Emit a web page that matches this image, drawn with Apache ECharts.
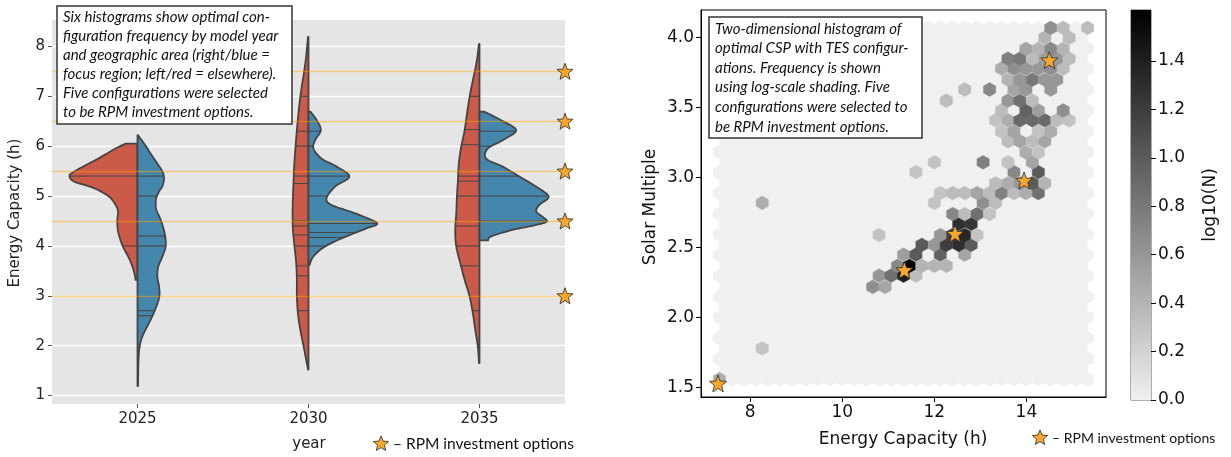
<!DOCTYPE html>
<html><head><meta charset="utf-8">
<script src="https://cdn.jsdelivr.net/npm/echarts@6/dist/echarts.min.js"></script>
<style>html,body{margin:0;padding:0;background:#fff}#c{width:1231px;height:457px}</style>
</head><body><div id="c"></div>
<script>
// ================= DATA =================
// ---- left panel: split violins (value in h, half-width in category units) ----
const years = ['2025', '2030', '2035'];
const rpmOptions = [3.0, 4.5, 5.5, 6.5, 7.5];
const leftYTicks = [1, 2, 3, 4, 5, 6, 7, 8];

const red2025 = [[3.32,0.012],[3.39,0.014],[3.59,0.030],[3.79,0.055],[3.95,0.080],[4.12,0.100],[4.32,0.115],[4.52,0.118],[4.69,0.114],[4.82,0.128],[4.99,0.167],[5.16,0.255],[5.29,0.370],[5.40,0.398],[5.47,0.380],[5.55,0.340],[5.65,0.285],[5.75,0.230],[5.85,0.180],[5.95,0.130],[6.05,0.070]];
const blue2025 = [[1.19,0.003],[1.72,0.006],[1.99,0.013],[2.19,0.029],[2.39,0.058],[2.59,0.087],[2.79,0.111],[2.99,0.128],[3.19,0.126],[3.39,0.116],[3.59,0.122],[3.79,0.146],[4.00,0.165],[4.25,0.159],[4.52,0.136],[4.72,0.111],[4.92,0.107],[5.09,0.126],[5.20,0.146],[5.35,0.155],[5.49,0.146],[5.65,0.116],[5.85,0.077],[6.05,0.039],[6.22,0.003]];
const red2030 = [[1.52,0.003],[1.65,0.010],[1.99,0.029],[2.32,0.048],[2.65,0.062],[2.99,0.068],[3.32,0.068],[3.65,0.072],[3.99,0.082],[4.32,0.091],[4.65,0.093],[4.99,0.091],[5.32,0.087],[5.65,0.083],[6.32,0.068],[6.99,0.048],[7.65,0.019],[8.19,0.003]];
const blue2030 = [[3.62,0.006],[3.79,0.029],[3.99,0.097],[4.19,0.221],[4.35,0.338],[4.45,0.402],[4.59,0.320],[4.69,0.243],[4.82,0.135],[4.95,0.105],[5.19,0.155],[5.39,0.239],[5.59,0.165],[5.75,0.077],[5.95,0.029],[6.12,0.039],[6.32,0.072],[6.52,0.048],[6.69,0.012]];
const red2035 = [[1.65,0.003],[1.99,0.010],[2.32,0.025],[2.65,0.039],[2.99,0.058],[3.32,0.087],[3.65,0.112],[3.99,0.136],[4.32,0.142],[4.65,0.136],[4.99,0.132],[5.32,0.126],[5.65,0.121],[5.99,0.107],[6.32,0.087],[6.99,0.058],[7.65,0.019],[8.05,0.003]];
const blue2035 = [[4.11,0.050],[4.19,0.068],[4.32,0.192],[4.42,0.330],[4.49,0.394],[4.58,0.370],[4.69,0.332],[4.82,0.349],[4.99,0.404],[5.19,0.330],[5.39,0.233],[5.59,0.136],[5.75,0.039],[5.95,0.048],[6.12,0.136],[6.32,0.214],[6.52,0.126],[6.69,0.029]];

const sticksRed2025 = [5.4, 4.0];
const sticksBlue2025 = [5.4, 5.0, 4.2, 4.0, 2.7, 2.6];
const sticksRed2030 = [7.0, 6.3, 6.0, 5.4, 5.25, 4.5, 4.4, 4.22, 4.0, 3.6, 3.4, 2.7];
const sticksBlue2030 = [6.3, 6.0, 5.4, 5.0, 4.45, 4.27, 4.17, 4.0];
const sticksRed2035 = [7.0, 6.33, 6.03, 5.4, 5.3, 5.0, 4.4, 4.0, 3.6, 2.7];
const sticksBlue2035 = [6.3, 6.0, 5.4, 5.0, 4.5];

// ---- right panel: hexbin (energy capacity, solar multiple, log10(N)) ----
const binX0 = 7.328, binDX = 0.2667, binNX = 30;
const binY0 = 1.559, binDY = 0.1478, binNY = 17;
const hexCells = [
 [7.33,1.56,0.45],[8.26,1.78,0.30],
 [10.66,2.22,0.65],[10.93,2.22,0.50],
 [10.80,2.30,0.60],[11.06,2.30,0.85],[11.33,2.30,1.40],[11.60,2.30,0.35],
 [11.20,2.37,0.70],[11.46,2.37,1.60],[11.73,2.37,0.40],[12.00,2.37,0.40],[12.26,2.37,0.40],
 [11.33,2.45,0.55],[11.60,2.45,1.00],[12.13,2.45,0.95],[12.66,2.45,0.50],
 [11.73,2.52,1.00],[12.00,2.52,0.60],[12.26,2.52,1.20],[12.53,2.52,1.30],[12.80,2.52,1.00],
 [10.80,2.59,0.30],[12.13,2.59,0.60],[12.40,2.59,1.20],[12.66,2.59,1.35],[12.93,2.59,0.30],
 [12.53,2.67,1.30],[12.80,2.67,1.25],
 [12.40,2.74,0.70],[12.66,2.74,0.35],[12.93,2.74,0.85],[13.20,2.74,0.30],
 [8.26,2.82,0.45],[12.00,2.82,0.30],[13.06,2.82,0.65],[13.33,2.82,0.35],
 [12.13,2.89,0.30],[12.40,2.89,0.35],[12.66,2.89,0.35],[12.93,2.89,0.50],[13.20,2.89,0.35],[13.46,2.89,0.75],[13.73,2.89,0.35],[13.99,2.89,0.45],[14.26,2.89,0.85],
 [13.33,2.96,0.35],[13.60,2.96,0.45],[13.86,2.96,0.60],[14.13,2.96,1.00],[14.40,2.96,0.40],
 [11.60,3.04,0.30],[13.73,3.04,0.70],[14.26,3.04,1.00],
 [12.00,3.11,0.30],[13.06,3.11,0.75],[13.60,3.11,0.30],[14.13,3.11,0.50],
 [13.99,3.18,0.45],[14.26,3.18,0.30],
 [13.60,3.26,0.35],[13.86,3.26,0.50],[14.13,3.26,0.35],[14.40,3.26,0.50],
 [13.46,3.33,0.30],[13.73,3.33,0.50],[14.26,3.33,0.30],[14.53,3.33,0.45],
 [13.33,3.41,0.30],[13.60,3.41,0.45],[13.86,3.41,0.90],[14.13,3.41,0.90],[14.40,3.41,0.90],[14.66,3.41,0.35],[14.93,3.41,0.30],
 [13.46,3.48,0.35],[13.99,3.48,0.95],[14.26,3.48,0.55],[14.80,3.48,0.65],
 [12.26,3.55,0.35],[13.60,3.55,0.60],[13.86,3.55,0.85],[14.13,3.55,0.35],
 [12.66,3.63,0.35],[13.20,3.63,0.70],[13.73,3.63,0.50],[13.99,3.63,0.60],[14.53,3.63,0.60],
 [13.60,3.70,0.40],[13.86,3.70,0.60],[14.13,3.70,0.80],[14.40,3.70,0.60],[14.66,3.70,0.60],
 [13.46,3.78,0.45],[13.73,3.78,0.65],[13.99,3.78,0.60],[14.26,3.78,0.60],[14.53,3.78,0.65],[14.80,3.78,0.35],
 [13.60,3.85,0.75],[13.86,3.85,0.80],[14.13,3.85,0.35],[14.40,3.85,0.55],[14.66,3.85,0.60],[14.93,3.85,0.35],
 [13.99,3.92,0.50],[14.26,3.92,0.40],[14.53,3.92,0.70],[14.80,3.92,0.40],
 [14.40,4.00,0.40],[14.93,4.00,0.35],
 [14.53,4.07,0.65],[14.80,4.07,0.35],[15.33,4.07,0.35]
];
const rpmEnergy = [7.30, 11.35, 12.45, 13.95, 14.50];
const rpmSolar  = [1.53, 2.34, 2.60, 2.98, 3.84];
const rightXTicks = [8, 10, 12, 14];
const rightYTicks = [1.5, 2.0, 2.5, 3.0, 3.5, 4.0];
const cbarTicks = [0, 0.2, 0.4, 0.6, 0.8, 1.0, 1.2, 1.4];
const cbarMax = 1.61;

// ================= STYLE / BUILD =================
const RED = '#cc5a49', BLUE = '#4586ac', OUTLINE = '#444444';
const STAR = 'path://M12,1 L14.9,8.6 L23,8.9 L16.7,14 L18.8,22 L12,17.6 L5.2,22 L7.3,14 L1,8.9 L9.1,8.6 Z';
const STAR_FILL = '#f8a72c';
const LEFT_XMIN = -0.5, LEFT_XMAX = 2.5;

function starPts(cx, cy, R) {
  const pts = [];
  for (let i = 0; i < 10; i++) {
    const r = i % 2 === 0 ? R : R * 0.45;
    const a = -Math.PI / 2 + i * Math.PI / 5;
    pts.push([cx + r * Math.cos(a), cy + r * Math.sin(a)]);
  }
  return pts;
}

const halves = [
  {cat:0, side:-1, profile:red2025,  sticks:sticksRed2025,  color:RED},
  {cat:0, side: 1, profile:blue2025, sticks:sticksBlue2025, color:BLUE},
  {cat:1, side:-1, profile:red2030,  sticks:sticksRed2030,  color:RED},
  {cat:1, side: 1, profile:blue2030, sticks:sticksBlue2030, color:BLUE},
  {cat:2, side:-1, profile:red2035,  sticks:sticksRed2035,  color:RED},
  {cat:2, side: 1, profile:blue2035, sticks:sticksBlue2035, color:BLUE}
];

function catmull(pts, seg) {
  const out = [];
  const n = pts.length;
  for (let i = 0; i < n - 1; i++) {
    const p0 = pts[Math.max(i - 1, 0)], p1 = pts[i], p2 = pts[i + 1], p3 = pts[Math.min(i + 2, n - 1)];
    for (let t = 0; t < seg; t++) {
      const s = t / seg, s2 = s * s, s3 = s2 * s;
      const f = k => 0.5 * ((2 * p1[k]) + (-p0[k] + p2[k]) * s + (2 * p0[k] - 5 * p1[k] + 4 * p2[k] - p3[k]) * s2 + (-p0[k] + 3 * p1[k] - 3 * p2[k] + p3[k]) * s3);
      out.push([f(0), f(1)]);
    }
  }
  out.push(pts[n - 1]);
  return out;
}

function renderViolin(params, api) {
  const h = halves[api.value(2)];
  const prof = h.profile;
  const cx = api.coord([h.cat, prof[0][0]])[0];
  let sm = catmull(prof.map(p => api.coord([h.cat + h.side * p[1], p[0]])), 8);
  sm = sm.map(p => [h.side < 0 ? Math.min(p[0], cx) : Math.max(p[0], cx), p[1]]);
  const bottom = api.coord([h.cat, prof[0][0]]);
  const top = api.coord([h.cat, prof[prof.length - 1][0]]);
  const pts = [bottom].concat(sm).concat([top]);
  const children = [{type:'polygon', shape:{points:pts}, style:{fill:h.color, stroke:'none'}}];
  h.sticks.forEach(s => {
    const c = api.coord([h.cat, s]);
    let x = c[0];
    for (let i = 0; i < sm.length - 1; i++) {
      const a = sm[i], b = sm[i + 1];
      if ((a[1] - c[1]) * (b[1] - c[1]) <= 0 && a[1] !== b[1]) {
        const t = (c[1] - a[1]) / (b[1] - a[1]);
        x = a[0] + t * (b[0] - a[0]);
        break;
      }
    }
    children.push({type:'line', shape:{x1:c[0], y1:c[1], x2:x, y2:c[1]}, style:{stroke:OUTLINE, lineWidth:1}});
  });
  children.push({type:'polygon', shape:{points:pts}, style:{fill:'none', stroke:OUTLINE, lineWidth:1.8, lineJoin:'round'}});
  return {type:'group', children};
}

// hex lattice (all bins; zero-count bins get value 0)
const hexData = [];
for (let j = 0; j <= binNY; j++) for (let i = 0; i <= binNX; i++) hexData.push([binX0 + i * binDX, binY0 + j * binDY, 0]);
for (let j = 0; j < binNY; j++) for (let i = 0; i < binNX; i++) hexData.push([binX0 + (i + 0.5) * binDX, binY0 + (j + 0.5) * binDY, 0]);
hexCells.forEach(c => hexData.push(c));

function renderHex(params, api) {
  const c = api.coord([api.value(0), api.value(1)]);
  const s = api.size([binDX, binDY]);
  const hw = s[0] / 2, h3 = s[1] / 3, h6 = s[1] / 6;
  const col = api.visual('color');
  return {type:'polygon', shape:{points:[[c[0]+hw,c[1]+h6],[c[0]+hw,c[1]-h6],[c[0],c[1]-h3],[c[0]-hw,c[1]-h6],[c[0]-hw,c[1]+h6],[c[0],c[1]+h3]]},
          style:{fill:col, stroke:col, lineWidth:0.4}};
}

function renderCbar(params, api) {
  const p0 = api.coord([0, 0]), p1 = api.coord([1, cbarMax]);
  return {type:'rect', shape:{x:p0[0], y:p1[1], width:p1[0]-p0[0], height:p0[1]-p1[1]},
          style:{fill:{type:'linear', x:0, y:0, x2:0, y2:1, colorStops:[{offset:0,color:'#000000'},{offset:1,color:'#f0f0f0'}]}}};
}

const TICKFONT = 'DejaVu Sans';
const NOTEFONT = 'Lato';

const option = {
  animation: false,
  backgroundColor: '#ffffff',
  grid: [
    {left:52, top:20, width:513, height:384, show:true, backgroundColor:'#e5e5e5', borderWidth:0},
    {left:701, top:10, width:405, height:387, show:true, borderColor:'#000', borderWidth:1},
    {left:1131, top:10, width:20, height:390, show:true, borderColor:'#333', borderWidth:0.8}
  ],
  xAxis: [
    {type:'value', gridIndex:0, min:LEFT_XMIN, max:LEFT_XMAX,
     axisLine:{show:false, onZero:false}, splitLine:{show:false},
     axisTick:{show:true, length:4, lineStyle:{color:'#555'}, customValues:[0,1,2]},
     axisLabel:{customValues:[0,1,2], formatter:v => years[Math.round(v)], fontFamily:TICKFONT, fontSize:15, color:'#222', margin:8}},
    {type:'value', gridIndex:1, min:6.93, max:15.73,
     axisLine:{show:true, onZero:false, lineStyle:{color:'#000', width:1}}, splitLine:{show:false},
     axisTick:{show:true, length:5, lineStyle:{color:'#000'}, customValues:rightXTicks},
     axisLabel:{customValues:rightXTicks, fontFamily:TICKFONT, fontSize:17, color:'#111', margin:7}},
    {type:'value', gridIndex:2, min:0, max:1, show:false}
  ],
  yAxis: [
    {type:'value', gridIndex:0, min:0.83, max:8.53,
     axisLine:{show:false, onZero:false},
     splitLine:{show:true, lineStyle:{color:'#ffffff', width:1.3}},
     axisTick:{show:true, length:4, lineStyle:{color:'#555'}, customValues:leftYTicks},
     axisLabel:{customValues:leftYTicks, fontFamily:TICKFONT, fontSize:15, color:'#222', margin:7}},
    {type:'value', gridIndex:1, min:1.433, max:4.198,
     axisLine:{show:true, onZero:false, lineStyle:{color:'#000', width:1}}, splitLine:{show:false},
     axisTick:{show:true, length:5, lineStyle:{color:'#000'}, customValues:rightYTicks},
     axisLabel:{customValues:rightYTicks, formatter:v => v.toFixed(1), fontFamily:TICKFONT, fontSize:17, color:'#111', margin:7}},
    {type:'value', gridIndex:2, min:0, max:cbarMax, position:'right',
     axisLine:{show:false, onZero:false}, splitLine:{show:false},
     axisTick:{show:true, length:5, lineStyle:{color:'#000'}, customValues:cbarTicks},
     axisLabel:{customValues:cbarTicks, formatter:v => v.toFixed(1), fontFamily:TICKFONT, fontSize:17, color:'#111', margin:7}}
  ],
  visualMap: [{show:false, type:'continuous', seriesIndex:2, dimension:2, min:0, max:cbarMax,
               inRange:{color:['#f0f0f0', '#000000']}}],
  series: [
    {type:'custom', xAxisIndex:0, yAxisIndex:0, renderItem:renderViolin, clip:false, z:2,
     data: halves.map((h, i) => [h.cat, 4, i])},
    {type:'scatter', xAxisIndex:0, yAxisIndex:0, z:5, clip:false, symbol:STAR, symbolSize:16,
     itemStyle:{color:STAR_FILL, borderColor:'#2a2a2a', borderWidth:0.8, opacity:1},
     data: rpmOptions.map(v => [LEFT_XMAX, v]),
     markLine:{silent:true, symbol:'none', label:{show:false}, z:4,
               lineStyle:{color:'rgba(255,165,0,0.45)', width:1.3, type:'solid'},
               data: rpmOptions.map(v => ({yAxis:v}))}},
    {type:'custom', xAxisIndex:1, yAxisIndex:1, renderItem:renderHex, clip:false, z:2,
     data: hexData},
    {type:'scatter', xAxisIndex:1, yAxisIndex:1, z:5, clip:false, symbol:STAR, symbolSize:17,
     itemStyle:{color:STAR_FILL, borderColor:'#2a2a2a', borderWidth:0.8, opacity:1},
     data: rpmEnergy.map((x, i) => [x, rpmSolar[i]])},
    {type:'custom', xAxisIndex:2, yAxisIndex:2, renderItem:renderCbar, clip:false, z:1, data:[[0.5, 0.5]]}
  ],
  graphic: [
    // left annotation
    {type:'rect', shape:{x:57, y:6, width:235, height:118}, style:{fill:'#fff', stroke:'#333', lineWidth:1.5}, z:20},
    {type:'text', x:63, y:8, z:21, style:{text:'Six histograms show optimal con-\nfiguration frequency by model year\nand geographic area (right/blue =\nfocus region; left/red = elsewhere).\nFive configurations were selected\nto be RPM investment options.',
      font:'italic 15px ' + NOTEFONT, fill:'#111', lineHeight:19}},
    // right annotation
    {type:'rect', shape:{x:709, y:17, width:213, height:121}, style:{fill:'#fff', stroke:'#333', lineWidth:1.5}, z:20},
    {type:'text', x:715, y:19, z:21, style:{text:'Two-dimensional histogram of\noptimal CSP with TES configur-\nations. Frequency is shown\nusing log-scale shading. Five\nconfigurations were selected to\nbe RPM investment options.',
      font:'italic 15px ' + NOTEFONT, fill:'#111', lineHeight:19.6}},
    // axis titles
    {type:'text', x:15, y:213, rotation:Math.PI/2, z:21, style:{text:'Energy Capacity (h)', font:'15px ' + TICKFONT, fill:'#222', align:'center', verticalAlign:'middle'}},
    {type:'text', x:309, y:444, z:21, style:{text:'year', font:'15px ' + TICKFONT, fill:'#222', align:'center', verticalAlign:'middle'}},
    {type:'text', x:651, y:207, rotation:Math.PI/2, z:21, style:{text:'Solar Multiple', font:'17px ' + TICKFONT, fill:'#111', align:'center', verticalAlign:'middle'}},
    {type:'text', x:903, y:440, z:21, style:{text:'Energy Capacity (h)', font:'17px ' + TICKFONT, fill:'#111', align:'center', verticalAlign:'middle'}},
    {type:'text', x:1211, y:205, rotation:Math.PI/2, z:21, style:{text:'log10(N)', font:'17px ' + TICKFONT, fill:'#111', align:'center', verticalAlign:'middle'}},
    // legends
    {type:'polygon', z:21, shape:{points:starPts(381, 444, 8)}, style:{fill:STAR_FILL, stroke:'#2a2a2a', lineWidth:0.8}},
    {type:'text', x:393, y:444, z:21, style:{text:'– RPM investment options', font:'15.5px ' + NOTEFONT, fill:'#111', verticalAlign:'middle'}},
    {type:'polygon', z:21, shape:{points:starPts(1040, 438, 8)}, style:{fill:STAR_FILL, stroke:'#2a2a2a', lineWidth:0.8}},
    {type:'text', x:1052, y:438, z:21, style:{text:'– RPM investment options', font:'14px ' + NOTEFONT, fill:'#111', verticalAlign:'middle'}}
  ]
};

const chart = echarts.init(document.getElementById('c'), null, {renderer:'canvas', width:1231, height:457});
chart.setOption(option);
</script>
</body></html>
